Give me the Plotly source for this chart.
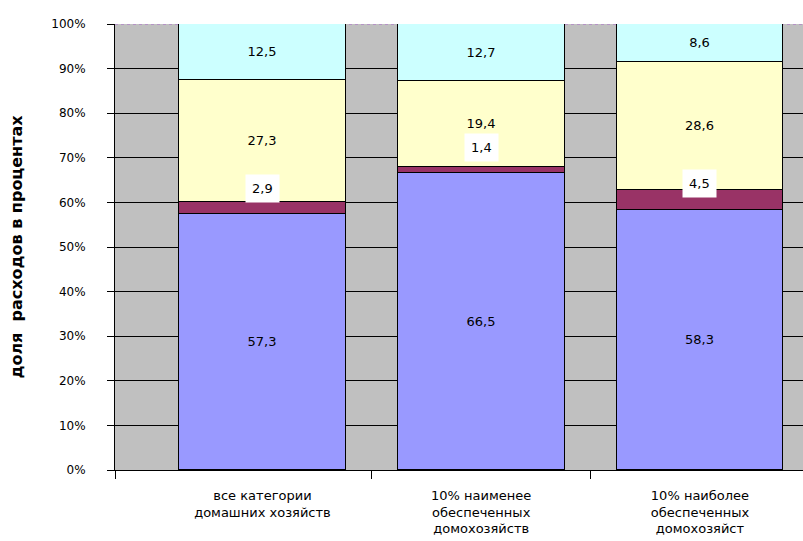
import plotly.graph_objects as go

categories = ["все категории<br>домашних хозяйств",
              "10% наименее<br>обеспеченных<br>домохозяйств",
              "10% наиболее<br>обеспеченных<br>домохозяйст"]
series_blue = [57.3, 66.5, 58.3]
series_maroon = [2.9, 1.4, 4.5]
series_yellow = [27.3, 19.4, 28.6]
series_cyan = [12.5, 12.7, 8.6]
y_ticks = [0, 10, 20, 30, 40, 50, 60, 70, 80, 90, 100]
y_tick_labels = [f"{v}%" for v in y_ticks]

x_pos = list(range(len(categories)))
BAR_W = 0.763
label_font = dict(family="DejaVu Sans", size=13, color="black")


def fmt(v):
    return f"{v:.1f}".replace(".", ",")


fig = go.Figure()
for vals, color, show in [(series_blue, "#9999ff", True),
                          (series_maroon, "#993366", False),
                          (series_yellow, "#ffffcc", True),
                          (series_cyan, "#ccffff", True)]:
    fig.add_trace(go.Bar(
        x=x_pos, y=vals, width=BAR_W,
        marker=dict(color=color, line=dict(color="black", width=1)),
        text=[fmt(v) for v in vals] if show else None,
        textposition="inside" if show else "none",
        insidetextanchor="middle",
        textfont=label_font,
        showlegend=False,
        hoverinfo="y",
    ))

# maroon labels with white boxes, just above the maroon segment
label_shift = [13, 20, 6]
for i, (b, m) in enumerate(zip(series_blue, series_maroon)):
    fig.add_annotation(
        x=x_pos[i], y=b + m, text=fmt(m), showarrow=False,
        yanchor="middle", yshift=label_shift[i],
        bgcolor="white", borderpad=6, font=label_font,
    )

fig.add_shape(type="line", xref="paper", x0=0, x1=1, yref="y", y0=100, y1=100,
              line=dict(color="#aa66cc", width=1, dash="dot"), layer="below")

fig.update_layout(
    width=803, height=541,
    margin=dict(l=115, r=0, t=24, b=71),
    paper_bgcolor="white",
    plot_bgcolor="#c0c0c0",
    barmode="stack",
    bargap=0,
    font=dict(family="DejaVu Sans", size=12, color="black"),
    xaxis=dict(
        range=[-0.674, 2.471],
        tickmode="array", tickvals=x_pos, ticktext=categories,
        ticks="", showgrid=False, zeroline=False,
        showline=True, linecolor="black", linewidth=1,
        tickfont=dict(family="DejaVu Sans", size=13, color="black"),
        ticklabelstandoff=13,
        minor=dict(tickmode="array", tickvals=[-0.674, 0.5, 1.5],
                   ticks="outside", ticklen=8, tickcolor="black", tickwidth=1,
                   showgrid=False),
    ),
    yaxis=dict(
        range=[0, 100],
        tickmode="array", tickvals=y_ticks, ticktext=y_tick_labels,
        ticks="outside", ticklen=7, tickcolor="black", tickwidth=1,
        showgrid=False, zeroline=False,
        showline=True, linecolor="black", linewidth=1,
        tickfont=dict(family="DejaVu Sans", size=12, color="black"),
        ticklabelstandoff=19,
        minor=dict(tickmode="array", tickvals=y_ticks[1:-1],
                   ticks="", showgrid=True, gridcolor="black", gridwidth=1),
        title=dict(text="<b>доля  расходов в процентах</b>",
                   font=dict(family="DejaVu Sans", size=16, color="black"),
                   standoff=24),
    ),
)

fig.write_html("out.html")
